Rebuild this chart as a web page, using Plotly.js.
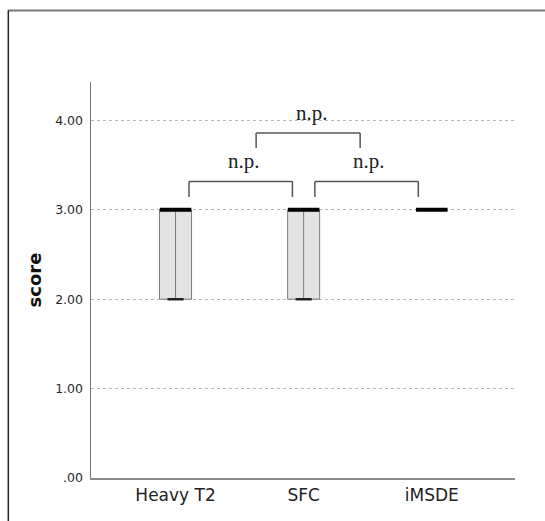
<!DOCTYPE html>
<html>
<head>
<meta charset="utf-8">
<script src="https://cdn.plot.ly/plotly-3.0.1.min.js"></script>
<style>html,body{margin:0;padding:0;background:#fff;}#chart{width:545px;height:521px;}</style>
</head>
<body>
<div id="chart"></div>
<script>
// ---- data ----
const categories = ["Heavy T2", "SFC", "iMSDE"];
const q1 = [2, 2, 3];
const median = [3, 3, 3];
const q3 = [3, 3, 3];
const lowerFence = [2, 2, 3];
const upperFence = [3, 3, 3];
const yTickVals = [0, 1, 2, 3, 4];
const yTickText = [".00", "1.00", "2.00", "3.00", "4.00"];
const sigLabels = ["n.p.", "n.p.", "n.p."];

// ---- traces ----
const boxTrace = {
  type: "box", x: categories, q1: q1, median: median, q3: q3,
  lowerfence: lowerFence, upperfence: upperFence,
  width: 0.25, whiskerwidth: 0.5, boxpoints: false,
  fillcolor: "#e3e3e3", line: {color: "#7a7a7a", width: 1},
  hoverinfo: "skip", showlegend: false
};
// vertical line through the box (q1 -> q3)
const vx = [], vy = [];
categories.forEach((c, i) => { vx.push(c, c, null); vy.push(q1[i], q3[i], null); });
const midLine = {
  type: "scatter", mode: "lines", x: vx, y: vy,
  line: {color: "#7a7a7a", width: 1}, hoverinfo: "skip", showlegend: false
};
const capTrace = {
  type: "scatter", mode: "markers", x: categories, y: lowerFence,
  marker: {symbol: "line-ew", size: 11.5, color: "#222", line: {color: "#222", width: 2.5}},
  hoverinfo: "skip", showlegend: false
};
const medianTrace = {
  type: "scatter", mode: "markers", x: categories, y: median,
  marker: {symbol: "line-ew", size: 22.5, color: "#000", line: {color: "#000", width: 4}},
  hoverinfo: "skip", showlegend: false
};

// ---- brackets (annotation geometry) ----
function bracket(x0, x1, yTop, yBot) {
  const st = {type: "line", xref: "x", yref: "y", line: {color: "#555", width: 1.5}};
  return [
    Object.assign({}, st, {x0: x0, x1: x1, y0: yTop, y1: yTop}),
    Object.assign({}, st, {x0: x0, x1: x0, y0: yTop, y1: yBot}),
    Object.assign({}, st, {x0: x1, x1: x1, y0: yTop, y1: yBot})
  ];
}
const shapes = [].concat(
  bracket(0.105, 0.9125, 3.318, 3.143),
  bracket(1.0875, 1.895, 3.318, 3.143),
  bracket(0.629, 1.441, 3.86, 3.692),
  [
    {type: "line", xref: "paper", yref: "paper", x0: -0.196, x1: 1.08, y0: 1.1806, y1: 1.1806, line: {color: "#7a7a7a", width: 2}},
    {type: "line", xref: "paper", yref: "paper", x0: -0.195, x1: -0.195, y0: 1.1806, y1: -0.12, line: {color: "#222", width: 1.5}}
  ]
);
const annPos = [[0.535, 3.55], [1.512, 3.55], [1.066, 4.087]];
const annotations = sigLabels.map((t, i) => ({
  text: t, x: annPos[i][0], y: annPos[i][1], xref: "x", yref: "y",
  showarrow: false, xanchor: "center", yanchor: "middle",
  font: {family: "Liberation Serif", size: 21, color: "#222"}
}));

const layout = {
  width: 545, height: 521,
  margin: {l: 91, r: 30, t: 82, b: 43, pad: 0},
  paper_bgcolor: "#fff", plot_bgcolor: "#fff",
  showlegend: false,
  xaxis: {
    type: "category", range: [-0.66, 2.65], showgrid: false, zeroline: false,
    showline: true, linecolor: "#8a8a8a", linewidth: 1.5, ticks: "",
    tickfont: {family: "DejaVu Sans", size: 17, color: "#222"}, ticklabelstandoff: 1
  },
  yaxis: {
    range: [0, 4.43], tickvals: yTickVals, ticktext: yTickText,
    showgrid: true, gridcolor: "#b8b8b8", gridwidth: 1, griddash: "dot",
    zeroline: false, showline: true, linecolor: "#777", linewidth: 1.5, ticks: "",
    ticklabelstandoff: 4,
    tickfont: {family: "DejaVu Sans", size: 12.5, color: "#2a2a2a"},
    title: {text: "score", standoff: 9, font: {family: "DejaVu Sans", size: 18, weight: "bold", color: "#111"}}
  },
  shapes: shapes,
  annotations: annotations
};

Plotly.newPlot("chart", [boxTrace, midLine, capTrace, medianTrace], layout, {displayModeBar: false, staticPlot: true});
</script>
</body>
</html>
